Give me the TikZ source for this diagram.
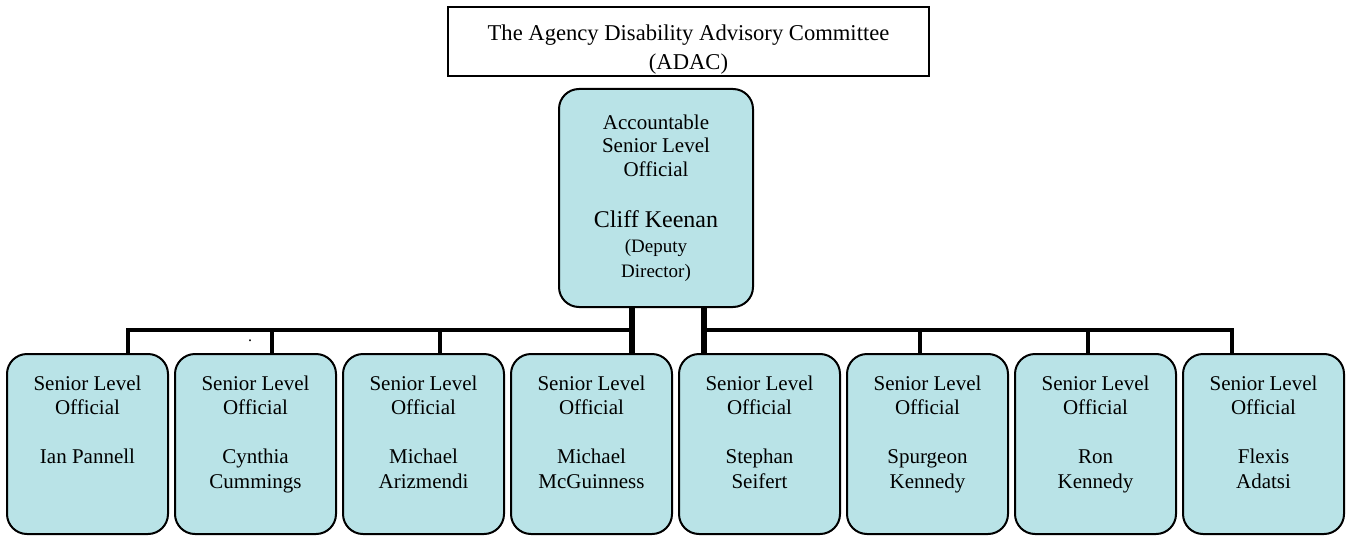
\documentclass[tikz,border=0pt]{standalone}
\usepackage{fontspec}
\setmainfont{Liberation Serif}
\definecolor{slblue}{RGB}{185,227,231}

\begin{document}
\begin{tikzpicture}[x=0.5pt, y=-0.5pt, every node/.style={inner sep=0pt},
  adacbox/.style={draw, line width=1pt, minimum width=240.5pt, anchor=north, text height=17pt, text depth=17.5pt, font=\fontsize{11.3}{14}\selectfont},
  aslbox/.style={draw, line width=1pt, fill=slblue, rounded corners=10pt, minimum width=97pt, minimum height=109pt, align=center, font=\fontsize{10.5}{11.75}\selectfont},
  slbox/.style={draw, line width=1pt, fill=slblue, rounded corners=10pt, minimum width=80.5pt, anchor=north, text height=18pt, text depth=72pt, font=\fontsize{10.5}{12.25}\selectfont},
  bus/.style={line width=1.75pt}, trunk/.style={line width=2.75pt}]
\useasboundingbox (0,0) rectangle (1347,535);

\node[adacbox] (adac) at (688.5,6) {\begin{tabular}[t]{@{}c@{}}The Agency Disability Advisory Committee\\(ADAC)\end{tabular}};
\node[aslbox] (asl) at (656,198) {Accountable\\Senior Level\\Official\\[13.75pt]{\fontsize{12}{14}\selectfont Cliff Keenan}\\[0.75pt]{\fontsize{9.5}{11}\selectfont (Deputy}\\[0.75pt]{\fontsize{9.5}{11}\selectfont Director)}};

\foreach \nm [count=\i] in {Ian Pannell, {Cynthia\\Cummings}, {Michael\\Arizmendi}, {Michael\\McGuinness},
    {Stephan\\Seifert}, {Spurgeon\\Kennedy}, {Ron\\Kennedy}, {Flexis\\Adatsi}}
  \node[slbox] (sl\i) at ({87.5+168*(\i-1)},353) {\begin{tabular}[t]{@{}c@{}}Senior Level\\Official\\ \\\nm\end{tabular}};

\foreach \x [count=\i] in {128,272,440,632,704,920,1088,1232}
  \coordinate (d\i) at (\x,330);

\draw[bus] (d1 |- sl1.north) -- (d1) -- (d4);
\draw[bus] (d8 |- sl8.north) -- (d8) -- (d5);
\foreach \i in {2,3,6,7}
  \draw[bus] (d\i) -- (d\i |- sl\i.north);
\foreach \i in {4,5}
  \draw[trunk] (d\i |- asl.south) -- (d\i |- sl\i.north);

\node[font=\fontsize{8}{8}\selectfont] (dot) at (250,341) {.};
\end{tikzpicture}
\end{document}
